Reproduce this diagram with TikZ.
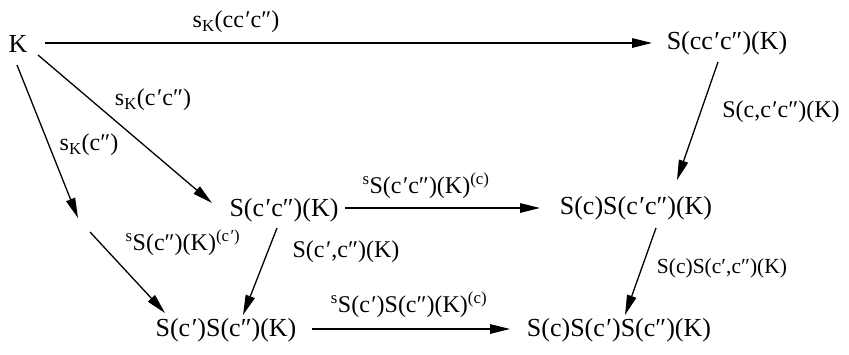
\documentclass[tikz,border=0pt]{standalone}
\usepackage{fontspec}
\setmainfont{Liberation Serif}
\usetikzlibrary{arrows.meta,calc}
\newcommand{\pr}{\kern1.5pt′}
\begin{document}
\begin{tikzpicture}[x=1pt,y=-1pt,
  obj/.style={inner sep=0pt,font=\fontsize{26}{30}\selectfont},
  lab/.style={inner sep=0pt,font=\fontsize{24}{28}\selectfont},
  labs/.style={inner sep=0pt,font=\fontsize{21.5}{25}\selectfont},
  arr/.style={-{Triangle[length=20pt,width=9.5pt]},line width=1.3pt}]
\useasboundingbox (0,0) rectangle (849,354);
% objects
\node[obj] (K) at (18,44) {K};
\node[obj] (scc) at (727,43) {S(cc\pr c″)(K)};
\node[obj] (sa) at (284,210) {S(c\pr c″)(K)};
\node[obj] (sb) at (636,208) {S(c)S(c\pr c″)(K)};
\node[inner sep=0pt] (e) at (84,225) {};
\node[obj] (bl) at (226,330) {S(c\pr)S(c″)(K)};
\node[obj] (br) at (619,330) {S(c)S(c\pr)S(c″)(K)};
% arrows
\draw[arr] ($(K)+(27,-1)$) -- ($(scc)+(-75,0)$);
\draw[arr] ($(K)+(20,11)$) -- ($(sa)+(-72,-7)$);
\draw[arr] ($(K)+(-1,21)$) -- ($(e)+(-6,-7)$);
\draw[arr] ($(e)+(6,7)$) -- ($(bl)+(-61,-17)$);
\draw[arr] ($(sa)+(61,-2)$) -- ($(sb)+(-96,0)$);
\draw[arr] ($(scc)+(-9,19)$) -- ($(sb)+(41,-28)$);
\draw[arr] ($(sa)+(-7,18)$) -- ($(bl)+(17,-15)$);
\draw[arr] ($(bl)+(86,-1)$) -- ($(br)+(-109,-1)$);
\draw[arr] ($(sb)+(20,20)$) -- ($(br)+(6,-15)$);
% labels
\node[lab] (l1) at (236,22) {s\textsubscript{K}(cc\pr c″)};
\node[lab] (l2) at (153,100) {s\textsubscript{K}(c\pr c″)};
\node[lab] (l3) at (89,145) {s\textsubscript{K}(c″)};
\node[lab] (l4) at (183,243) {\textsuperscript{s}S(c″)(K)\textsuperscript{(c\pr)}};
\node[lab] (l5) at (426,186) {\textsuperscript{s}S(c\pr c″)(K)\textsuperscript{(c)}};
\node[lab] (l6) at (781,112) {S(c,c\pr c″)(K)};
\node[lab] (l7) at (346,252) {S(c\pr,c″)(K)};
\node[lab] (l8) at (409,305) {\textsuperscript{s}S(c\pr)S(c″)(K)\textsuperscript{(c)}};
\node[labs] (l9) at (722,268) {S(c)S(c′,c″)(K)};
\end{tikzpicture}
\end{document}
